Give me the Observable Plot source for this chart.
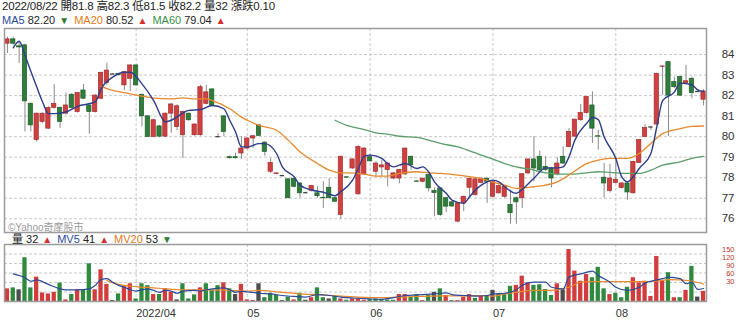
<!DOCTYPE html>
<html><head><meta charset="utf-8">
<script src="https://cdn.jsdelivr.net/npm/d3@7"></script>
<script src="https://cdn.jsdelivr.net/npm/@observablehq/plot@0.6"></script>
<style>
body{margin:0;background:#fff;}
#wrap{position:relative;width:740px;height:320px;overflow:hidden;font-family:"Liberation Sans","Noto Sans CJK TC",sans-serif;color:#222;}
.abs{position:absolute;white-space:nowrap;}
.h1{font-size:11.5px;line-height:13px;letter-spacing:-0.2px;}
.h2{font-size:11px;line-height:12px;}
.b{color:#2b4a9b}.o{color:#e07b1a}.g{color:#3a8f4a}
.up{color:#d32f2f;font-size:10px;margin:0 5px 0 4px}.dn{color:#2e7d32;font-size:10px;margin:0 5px 0 4px}
</style></head><body><div id="wrap">
<div class="abs h1" style="left:2px;top:0px">2022/08/22 開81.8 高82.3 低81.5 收82.2 量32 漲跌0.10</div>
<div class="abs h2" style="left:2px;top:13.5px"><span class="b">MA5</span> 82.20<span class="dn">▼</span><span class="o">MA20</span> 80.52<span class="up">▲</span><span class="g">MA60</span> 79.04<span class="up">▲</span></div>
<div class="abs" id="main" style="left:0;top:27px"></div>
<div class="abs" id="wm" style="left:8px;top:219px;font-size:10px;color:#9a9a9a">©Yahoo奇摩股市</div>
<div class="abs" id="vol" style="left:0;top:243px"></div>
<div class="abs" id="vlab" style="left:0;top:240px"></div>
<div class="abs h2" style="left:12px;top:233px;line-height:13px;z-index:3">量 32<span class="up">▲</span><span class="b">MV5</span> 41<span class="up">▲</span><span class="o">MV20</span> 53<span class="dn">▼</span></div>
</div>
<script>
const idx = d3.range(120);
const openV = [84.53,84.74,84.40,84.45,81.60,79.83,80.72,80.39,81.40,81.40,81.12,82.04,81.20,82.25,81.52,81.20,81.85,82.61,83.05,83.05,
82.50,82.82,83.47,82.04,80.99,79.99,80.50,80.00,81.12,80.47,80.07,81.12,80.07,80.07,81.60,82.30,80.00,80.99,79.00,79.00,
79.18,79.42,79.91,80.55,79.71,78.29,78.18,78.10,77.92,77.95,77.72,77.27,77.37,77.24,77.02,77.51,77.00,76.18,78.02,78.45,
77.19,78.16,79.00,78.29,78.50,78.37,77.96,77.96,78.16,79.02,77.82,77.80,78.13,77.35,77.48,77.00,76.80,75.86,76.75,77.51,
77.16,77.75,77.95,77.07,77.24,77.07,76.67,77.00,77.00,78.21,78.89,79.02,78.53,78.45,78.17,79.02,79.50,80.00,80.80,81.15,
81.52,80.02,78.00,77.35,77.75,77.50,77.72,77.24,78.72,79.99,80.47,80.59,83.40,83.63,82.66,82.90,82.60,82.82,82.20,81.80];
const highV = [84.85,84.85,84.62,84.50,81.65,81.15,81.15,81.45,82.53,81.45,82.12,82.10,82.15,82.54,81.55,82.05,83.15,83.58,83.08,83.08,
83.18,83.50,83.50,82.08,81.02,80.85,80.55,81.15,81.62,81.55,81.25,81.15,80.62,82.50,82.50,82.35,80.15,81.02,79.05,79.20,
80.00,79.95,80.05,80.60,79.75,78.94,78.24,78.12,77.95,78.00,77.75,77.30,77.62,77.56,77.80,77.95,77.05,79.05,78.05,78.92,
79.55,79.45,79.15,78.78,78.85,78.72,78.25,78.40,79.45,79.05,77.85,77.98,78.15,77.50,77.50,77.05,76.85,76.80,77.10,77.98,
77.95,78.00,78.00,77.85,77.65,77.60,77.40,77.05,78.20,78.90,80.00,79.30,79.02,78.50,78.97,79.50,80.39,80.85,81.57,81.95,
82.18,80.31,78.69,78.65,78.86,77.75,77.75,78.80,79.85,80.58,80.50,83.10,83.45,83.65,82.90,82.95,83.47,82.90,82.25,82.30];
const lowV = [84.05,84.45,83.56,80.23,80.23,79.75,80.65,80.35,81.35,80.40,81.05,81.35,81.15,81.80,80.12,81.15,81.80,82.50,83.02,82.95,
82.25,82.20,82.45,80.47,79.95,79.95,79.95,79.95,80.16,80.30,78.94,80.75,80.02,80.02,81.55,81.45,79.98,80.00,78.90,78.90,
78.90,79.40,79.42,80.00,79.05,78.20,78.15,78.08,76.98,77.50,77.00,77.25,77.30,77.00,76.50,76.98,76.80,75.97,77.98,78.40,
77.15,78.10,78.75,78.05,78.05,77.56,77.90,77.70,78.10,78.37,77.78,77.75,77.30,76.10,76.10,76.30,76.55,75.80,76.35,77.00,
77.10,77.70,76.75,77.00,77.20,77.00,75.73,75.73,76.50,78.15,77.80,78.30,78.30,77.50,78.10,78.65,79.45,79.95,80.75,81.10,
79.67,79.34,77.00,77.25,77.70,77.45,76.90,77.20,78.70,79.95,80.30,80.55,82.00,80.00,82.35,81.95,82.55,81.85,82.15,81.50];
const closeV = [84.74,84.53,84.35,81.72,80.55,81.12,81.12,81.40,81.60,80.72,81.52,81.40,82.12,81.85,81.20,82.00,83.11,83.22,83.05,83.00,
83.14,83.47,82.50,80.99,79.99,80.80,80.00,81.12,81.57,81.48,81.20,80.80,80.59,82.41,82.16,81.52,80.00,80.23,78.95,78.95,
79.42,79.91,80.02,80.04,79.26,78.72,78.21,78.10,77.00,77.56,77.24,77.27,77.59,77.10,77.00,77.00,76.83,79.02,78.00,78.89,
79.50,79.42,78.80,78.69,78.60,78.69,78.21,78.37,79.42,78.61,77.80,77.95,77.48,77.25,76.18,76.59,76.60,76.75,77.07,77.95,
77.92,77.95,77.80,77.80,77.59,77.56,76.27,76.80,78.17,78.89,78.45,78.37,78.37,77.96,78.69,78.69,80.23,80.83,81.15,81.93,
80.39,80.00,77.72,77.96,77.90,77.72,77.28,78.77,79.83,80.42,80.47,83.06,83.42,82.00,82.41,82.00,82.70,82.12,82.20,82.20];
const volV = [40,43,37,138,43,77,27,24,29,58,5,22,37,37,119,37,100,54,3,24,
47,56,8,56,50,22,22,40,29,5,56,8,21,43,56,35,50,59,40,22,
54,5,3,56,12,26,19,3,14,5,26,4,12,43,12,8,16,8,4,8,
8,4,6,8,6,5,4,22,22,14,22,3,19,29,40,19,3,3,14,22,
10,17,19,35,22,22,48,51,80,59,51,53,38,19,56,37,164,96,64,85,
75,108,40,22,26,12,45,75,59,64,16,142,66,91,12,12,35,111,14,32];
const volDir = ["r","g","n","g","g","r","r","r","r","g","r","g","r","g","g","r","r","r","n","g",
"r","r","g","g","g","r","g","r","r","n","g","g","g","r","g","g","g","r","g","n",
"r","r","r","n","g","g","g","n","g","r","g","n","r","g","g","n","g","r","g","r",
"r","r","g","g","g","g","g","r","r","g","g","r","g","n","g","r","g","r","r","r",
"g","r","g","n","g","g","g","r","r","r","g","g","g","g","r","n","r","r","r","r",
"g","g","g","r","g","g","g","r","r","r","r","r","r","g","r","g","r","g","n","r"];
const ma5K = [1,2,3,4,5,6,7,8,10,12,15,16,18,20,21,23,25,27,28,30,31,33,35,37,38,39,40,41,43,44,46,47,49,50,52,54,55,56,57,59,60,61,62,64,65,66,67,68,70,71,72,73,75,76,78,79,80,81,82,83,84,85,87,88,90,92,94,95,96,97,99,100,101,102,104,105,106,107,108,110,111,112,114,115,117,118,119];
const ma5V = [84.33,84.65,83.97,83.19,82.43,81.70,81.12,81.12,81.20,81.48,81.69,82.33,82.90,83.14,83.14,82.57,81.76,80.72,80.80,81.15,81.28,81.32,81.52,81.36,80.80,80.23,79.50,79.50,79.66,79.66,79.18,78.53,78.05,77.64,77.40,77.29,77.20,77.12,77.32,77.88,78.45,79.05,79.10,78.94,78.69,78.53,78.61,78.69,78.45,78.53,78.29,77.80,77.24,76.91,76.75,77.07,77.40,77.64,77.80,77.88,77.80,77.56,77.24,77.43,77.97,78.48,78.48,78.53,79.02,79.83,80.64,80.93,80.83,79.99,78.94,78.05,77.80,78.05,78.45,79.18,80.47,81.76,82.17,82.61,82.53,82.28,82.20];
const ma20K = [16,18,21,23,25,28,30,32,34,35,38,40,41,43,46,48,50,53,55,57,58,61,63,65,67,70,72,74,77,79,81,83,85,87,90,92,94,96,99,101,103,106,108,110,112,115,117,119];
const ma20V = [82.45,82.25,82.09,81.97,81.88,81.84,81.89,81.84,81.84,81.76,81.36,80.95,80.80,80.55,80.31,79.83,79.26,78.69,78.37,78.24,78.24,78.17,78.08,78.08,78.21,78.29,78.24,78.21,78.13,78.05,77.96,77.78,77.64,77.48,77.56,77.64,77.80,78.13,78.69,78.86,78.94,78.94,79.18,79.67,80.15,80.39,80.50,80.52];
const ma60K = [56,58,61,63,65,67,70,72,74,77,79,81,83,85,87,90,92,94,96,99,101,103,106,108,110,112,115,117,119];
const ma60V = [80.80,80.55,80.34,80.18,80.12,80.02,79.96,79.83,79.67,79.50,79.31,79.10,78.90,78.69,78.53,78.37,78.24,78.17,78.17,78.24,78.29,78.26,78.21,78.21,78.37,78.61,78.77,78.94,79.04];
const mv5K = [1,3,4,5,7,9,10,12,14,15,16,17,18,19,20,21,22,24,25,26,27,28,29,30,32,33,34,35,37,38,39,40,41,42,43,45,47,49,51,53,55,57,59,62,64,66,68,71,73,75,76,78,80,82,83,85,87,88,90,92,93,95,96,98,100,101,103,104,106,108,109,111,112,113,115,116,117,118,119];
const mv5V = [87,75,64,68,54,40,37,37,40,51,69,72,61,51,45,37,33,40,35,29,35,33,26,33,35,33,37,40,43,37,29,32,30,29,26,24,19,16,14,22,19,14,11,8,7,12,19,22,24,27,22,19,17,19,24,26,37,51,61,61,45,40,77,87,96,82,61,45,35,45,58,68,72,77,72,56,61,38,41];
const mv20K = [17,19,22,25,27,31,34,38,41,43,47,50,54,57,60,64,67,71,74,78,82,83,85,87,90,92,94,96,98,100,102,104,107,109,111,113,115,117,119];
const mv20V = [66,54,47,43,40,37,37,35,33,35,29,24,21,17,14,12,14,16,18,18,19,17,24,29,35,35,37,45,61,63,63,63,63,63,64,69,68,64,55];
const priceTicks = [76,77,78,79,80,81,82,83,84];
const volGridTicks = [30,60,90,120,150];
const volLabelTicks = [30,60,90,120,150];
const monthIdx = [22,41,62,83,104];
const monthLabels = ["2022/04","05","06","07","08"];

const candles = idx.map(k => ({k, open: openV[k], high: highV[k], low: lowV[k], close: closeV[k]}));
const vols = idx.map(k => ({k, vol: volV[k], dir: volDir[k]}));
const pts = (K, V) => K.map((k, i) => ({k, v: V[i]}));

const RED = "#cf4040", RED_S = "#a52c2c", GRN = "#2e7d3a", GRN_S = "#1f5c29";
const GRID = {stroke: "#c8c8c8", strokeOpacity: 1, strokeDasharray: "3,2", strokeWidth: 1};
const font = "font-family:'Liberation Sans',Arial,sans-serif;overflow:visible;background:transparent;";
const xScale = {type: "band", domain: idx, range: [4, 706], paddingInner: 0.27, paddingOuter: 0.135, axis: null};

const main = Plot.plot({
  width: 740, height: 208, marginLeft: 4, marginRight: 34, marginTop: 1, marginBottom: 3,
  style: font,
  x: xScale,
  y: {domain: [75.33, 85.27], label: null},
  marks: [
    Plot.gridY(priceTicks, GRID),
    Plot.ruleX(monthIdx, GRID),
    Plot.ruleX(candles, {x: "k", y1: "low", y2: "high", stroke: "#8a8a8a", strokeWidth: 1}),
    Plot.barY(candles.filter(d => d.open !== d.close), {x: "k", y1: "open", y2: "close",
      fill: d => d.close > d.open ? RED : GRN, stroke: d => d.close > d.open ? RED_S : GRN_S, strokeWidth: 0.7}),
    Plot.tickY(candles.filter(d => d.open === d.close), {x: "k", y: "close", stroke: "#444", strokeWidth: 1.3}),
    Plot.line(pts(ma60K, ma60V), {x: "k", y: "v", stroke: "#5a9e68", strokeWidth: 1.3, curve: "monotone-x"}),
    Plot.line(pts(ma20K, ma20V), {x: "k", y: "v", stroke: "#e8892d", strokeWidth: 1.3, curve: "monotone-x"}),
    Plot.line(pts(ma5K, ma5V), {x: "k", y: "v", stroke: "#2c3e8c", strokeWidth: 1.4, curve: "monotone-x"}),
    Plot.axisY(priceTicks, {anchor: "right", tickSize: 0, tickPadding: 28, textAnchor: "end", fontSize: 11.5, color: "#333", label: null}),
    Plot.frame({stroke: "#9c9c9c", strokeWidth: 1.5})
  ]
});
document.getElementById("main").appendChild(main);

const volColor = {r: "#d23c3c", g: "#2f8a3e", n: "#4d4d4d"};
const vol = Plot.plot({
  width: 740, height: 77, marginLeft: 4, marginRight: 34, marginTop: 1, marginBottom: 19,
  style: font,
  x: xScale,
  y: {domain: [0, 180], label: null, axis: null},
  marks: [
    Plot.gridY(volGridTicks, GRID),
    Plot.ruleX(monthIdx, GRID),
    Plot.barY(vols, {x: "k", y: "vol", fill: d => volColor[d.dir]}),
    Plot.line(pts(mv20K, mv20V), {x: "k", y: "v", stroke: "#e8892d", strokeWidth: 1.2, curve: "monotone-x"}),
    Plot.line(pts(mv5K, mv5V), {x: "k", y: "v", stroke: "#2c4a9a", strokeWidth: 1.2, curve: "monotone-x"}),
    Plot.axisX(monthIdx, {anchor: "bottom", tickSize: 0, tickPadding: 8, textAnchor: "start", fontSize: 11, color: "#333",
      tickFormat: d => monthLabels[monthIdx.indexOf(d)], label: null}),
    Plot.frame({stroke: "#9c9c9c", strokeWidth: 1.5})
  ]
});
document.getElementById("vol").appendChild(vol);

const vlab = Plot.plot({
  width: 740, height: 50, marginLeft: 4, marginRight: 34, marginTop: 9.5, marginBottom: 9,
  style: font,
  y: {domain: [30, 150], label: null},
  marks: [
    Plot.axisY(volLabelTicks, {anchor: "right", tickSize: 0, tickPadding: 28, textAnchor: "end", fontSize: 7.5, color: "#c0392b", label: null})
  ]
});
document.getElementById("vlab").appendChild(vlab);
</script></body></html>
